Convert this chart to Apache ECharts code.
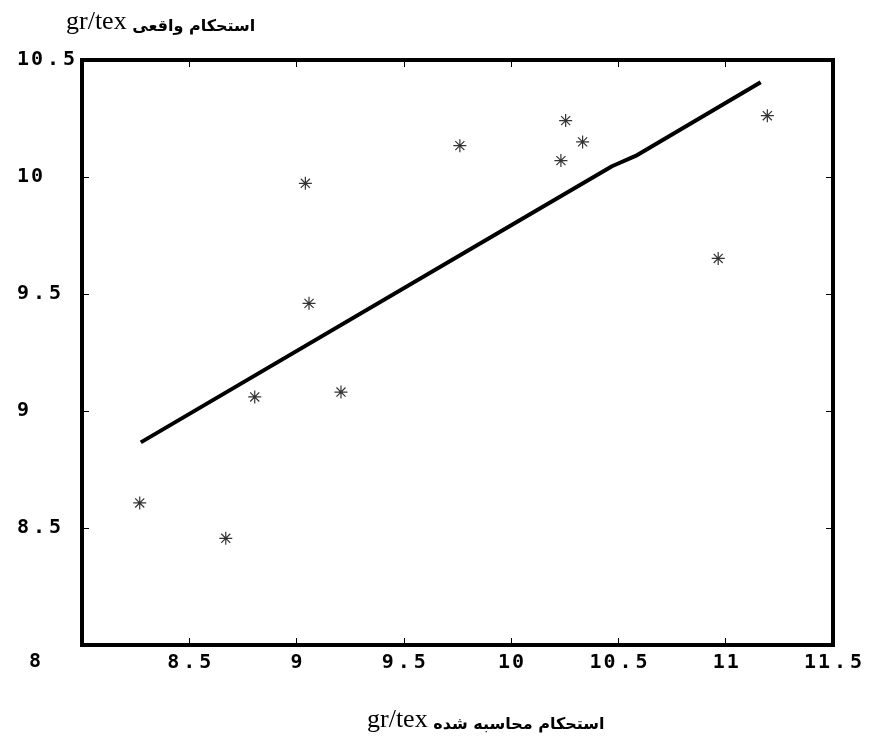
<!DOCTYPE html>
<html>
<head>
<meta charset="utf-8">
<script src="https://cdn.jsdelivr.net/npm/echarts@6/dist/echarts.min.js"></script>
<style>
html,body{margin:0;padding:0;background:#fff;}
#chart{width:870px;height:742px;}
</style>
</head>
<body>
<div id="chart"></div>
<script>
// ---- data ----
var measuredX = [8.269, 8.670, 8.805, 9.041, 9.058, 9.207, 9.761, 10.232, 10.254, 10.333, 10.965, 11.194];
var measuredY = [8.607, 8.456, 9.060, 9.973, 9.460, 9.081, 10.134, 10.070, 10.241, 10.150, 9.652, 10.262];
var fitX = [8.274, 9.865, 10.470, 10.580, 11.163];
var fitY = [8.866, 9.721, 10.046, 10.090, 10.405];
var xTicks = ['8', '8.5', '9', '9.5', '10', '10.5', '11', '11.5'];
var yTicks = ['8', '8.5', '9', '9.5', '10', '10.5'];
var yTitleUnit = 'gr/tex';
var yTitleText = 'استحکام واقعی';
var xTitleUnit = 'gr/tex';
var xTitleText = 'استحکام محاسبه شده';

var MONO = '"DejaVu Sans Mono", monospace';
var richDigits = {
  d: {width: 14, align: 'center', fontSize: 20, fontFamily: MONO, fontWeight: 'bold', color: '#000'},
  p: {width: 18, align: 'center', fontSize: 20, fontFamily: MONO, fontWeight: 'bold', color: '#000'}
};
function tickText(str) {
  return str.split('').map(function (c) { return c === '.' ? '{p|.}' : '{d|' + c + '}'; }).join('');
}
function makeFormatter(list) {
  return function (v) {
    var s = null;
    for (var i = 0; i < list.length; i++) { if (Math.abs(parseFloat(list[i]) - v) < 1e-6) s = list[i]; }
    if (s === null || s === list[0]) return '';
    return tickText(s);
  };
}

var scatterData = measuredX.map(function (x, i) { return [x, measuredY[i]]; });
var lineData = fitX.map(function (x, i) { return [x, fitY[i]]; });

var titleRich = {
  u: {fontFamily: '"Liberation Serif", serif', fontSize: 26, fontWeight: 'normal', color: '#000', verticalAlign: 'bottom'},
  t: {fontFamily: '"DejaVu Sans", sans-serif', fontSize: 16, fontWeight: 'bold', color: '#000', verticalAlign: 'bottom'}
};

var chart = echarts.init(document.getElementById('chart'), null, {renderer: 'canvas'});
var tickStyle = {show: true, inside: true, length: 7, lineStyle: {color: '#000', width: 1}};
chart.setOption({
  backgroundColor: '#fff',
  animation: false,
  title: [
    {
      left: 61, top: 4,
      text: '{u|' + yTitleUnit + '}{t| ' + yTitleText + '}',
      textStyle: {fontWeight: 'normal', rich: titleRich}
    },
    {
      left: 362, top: 702,
      text: '{u|' + xTitleUnit + '}{t| ' + xTitleText + '}',
      textStyle: {fontWeight: 'normal', rich: titleRich}
    }
  ],
  graphic: [{
    type: 'text', left: 29, top: 652,
    style: {text: xTicks[0], fontSize: 20, fontFamily: MONO, fontWeight: 'bold', fill: '#000'}
  }],
  grid: {
    left: 82, right: 37, top: 60, bottom: 97,
    show: true, borderColor: '#000', borderWidth: 4, backgroundColor: 'transparent'
  },
  xAxis: [
    {
      type: 'value', position: 'bottom', min: 8, max: 11.5, interval: 0.5,
      axisLine: {show: false}, splitLine: {show: false}, axisTick: tickStyle,
      axisLabel: {show: true, margin: 8, formatter: makeFormatter(xTicks), rich: richDigits}
    },
    {
      type: 'value', position: 'top', min: 8, max: 11.5, interval: 0.5,
      axisLine: {show: false}, splitLine: {show: false}, axisTick: tickStyle,
      axisLabel: {show: false}
    }
  ],
  yAxis: [
    {
      type: 'value', position: 'left', min: 8, max: 10.5, interval: 0.5,
      axisLine: {show: false}, splitLine: {show: false}, axisTick: tickStyle,
      axisLabel: {show: true, margin: 66, align: 'left', formatter: makeFormatter(yTicks), rich: richDigits}
    },
    {
      type: 'value', position: 'right', min: 8, max: 10.5, interval: 0.5,
      axisLine: {show: false}, splitLine: {show: false}, axisTick: tickStyle,
      axisLabel: {show: false}
    }
  ],
  series: [
    {
      type: 'line', xAxisIndex: 0, yAxisIndex: 0, data: lineData,
      showSymbol: false, symbol: 'none', smooth: false,
      lineStyle: {color: '#000', width: 4}, silent: true, z: 3
    },
    {
      type: 'scatter', xAxisIndex: 0, yAxisIndex: 0, data: scatterData,
      symbol: 'path://M0,-10L0,10M-10,0L10,0M-7,-7L7,7M-7,7L7,-7',
      symbolSize: 13,
      itemStyle: {color: 'none', borderColor: '#000', borderWidth: 1.2},
      silent: true, z: 4
    }
  ]
});
</script>
</body>
</html>
